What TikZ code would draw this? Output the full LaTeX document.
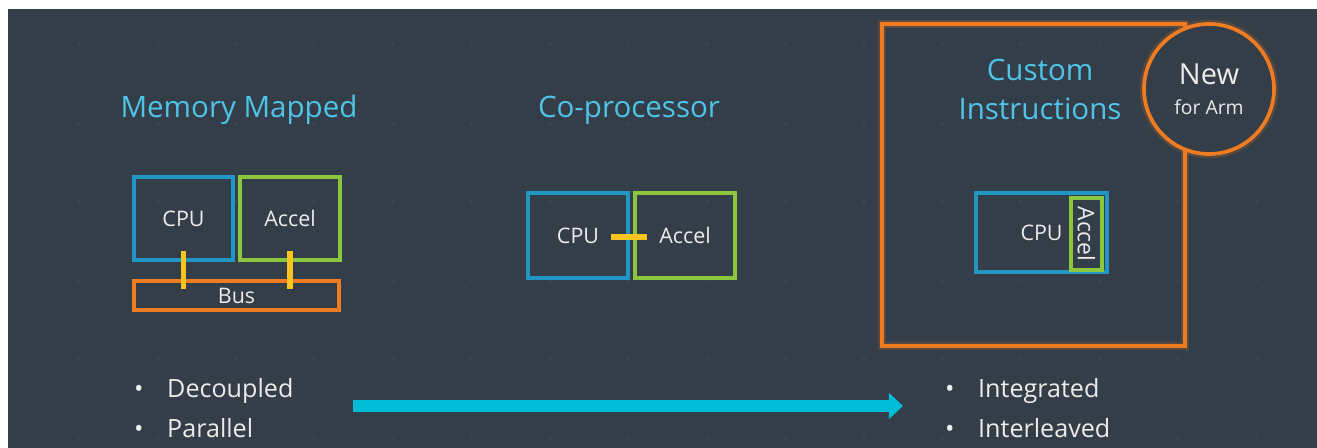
\documentclass[tikz,border=0pt]{standalone}
\usepackage{fontspec}
\setmainfont{Open Sans}
\usepackage{tikz}
\usetikzlibrary{arrows.meta}
\usetikzlibrary{positioning,calc}

\definecolor{slate}{HTML}{333E48}
\definecolor{griddot}{HTML}{39444F}
\definecolor{titleblue}{HTML}{4FC3E8}
\definecolor{cpublue}{HTML}{2196C4}
\definecolor{accgreen}{HTML}{8CC63F}
\definecolor{busorange}{HTML}{F07C22}
\definecolor{linkyellow}{HTML}{F7C51E}
\definecolor{flowcyan}{HTML}{00BCD6}
\definecolor{labeltext}{HTML}{ECECEC}

\begin{document}
\begin{tikzpicture}[x=0.02cm, y=-0.02cm,
	box/.style={draw, rectangle, line width=1.9pt, text=labeltext, font=\fontsize{12.2}{14}\selectfont},
	cpubox/.style={box, draw=cpublue},
	accbox/.style={box, draw=accgreen},
	link/.style={draw=linkyellow, line width=3.4pt},
	title/.style={text=titleblue, font=\fontsize{16.8}{22.2}\selectfont, align=center},
	points/.style={text=labeltext, font=\fontsize{14.3}{22.8}\selectfont, align=left, anchor=west},
	glow/.style={preaction={draw=busorange, line width=5pt, opacity=0.18}}]
		% page and background
		\useasboundingbox (0,0) rectangle (1317,448);
		\fill[white] (0,0) rectangle (1317,448);
		\fill[slate] (8,9) rectangle (1317,448);
		\foreach \i in {0,...,15}
			\foreach \j in {0,...,5}
				\fill[griddot] (79+78.5*\i, 45+78.5*\j) circle (1.2pt);

		% memory mapped
		\node[title] (mmtitle) at (239,110) {Memory Mapped};
		\node[cpubox, minimum width=1.98cm, minimum height=1.66cm] (mmcpu) at (183.5,218.5) {CPU};
		\node[accbox, minimum width=2cm, minimum height=1.66cm] (mmacc) at (290,218.5) {Accel};
		\node[box, draw=busorange, minimum width=4.1cm, minimum height=0.58cm] (mmbus) at (236.5,295.5) {Bus};
		\draw[link] ([yshift=0.22cm]mmcpu.south) -- ([yshift=0.12cm]mmcpu.south |- mmbus.center);
		\draw[link] ([yshift=0.22cm]mmacc.south) -- ([yshift=0.12cm]mmacc.south |- mmbus.center);

		% co-processor
		\node[title] (cptitle) at (629,110) {Co-processor};
		\node[cpubox, minimum width=2cm, minimum height=1.7cm] (cpcpu) at (578,235.5) {CPU};
		\node[accbox, minimum width=2cm, minimum height=1.7cm] (cpacc) at (685,235.5) {Accel};
		\draw[link] ([xshift=-0.38cm,yshift=-0.03cm]cpcpu.east) -- ([xshift=0.28cm,yshift=-0.03cm]cpacc.west);

		% custom instructions
		\node[draw=busorange, line width=2.1pt, glow, minimum width=6.06cm, minimum height=6.44cm] (ci) at (1033.5,185) {};
		\node[title] (cititle) at (1040,89.5) {Custom\\Instructions};
		\node[circle, draw=busorange, fill=slate, line width=2.1pt, glow, minimum size=2.6cm, inner sep=0pt, text=labeltext, align=center] (new) at (1209,89)
			{\fontsize{16.5}{18}\selectfont New\\[5pt]\fontsize{11}{13}\selectfont for Arm};
		\node[cpubox, minimum width=2.62cm, minimum height=1.58cm, text depth=-0.1cm] (cicpu) at (1041.5,232.5) {CPU};
		\node[accbox, rotate=-90, font=\fontsize{13}{14}\selectfont, inner sep=0.5pt, minimum width=1.44cm, minimum height=0.62cm] (ciacc) at (1086.5,234) {Accel};

		% bullet lists and the arrow between them
		\node[points] (mmlist) at (128,408) {\makebox[0.66cm][l]{•}Decoupled\\\makebox[0.66cm][l]{•}Parallel};
		\node[points] (cilist) at (939,408) {\makebox[0.66cm][l]{•}Integrated\\\makebox[0.66cm][l]{•}Interleaved};
		\draw[flowcyan, line width=6.8pt, -{Triangle[length=8pt,width=14.5pt]}] ([xshift=1.06cm,yshift=0.04cm]mmlist.east) -- ([xshift=-0.72cm,yshift=0.04cm]cilist.west);
\end{tikzpicture}
\end{document}
